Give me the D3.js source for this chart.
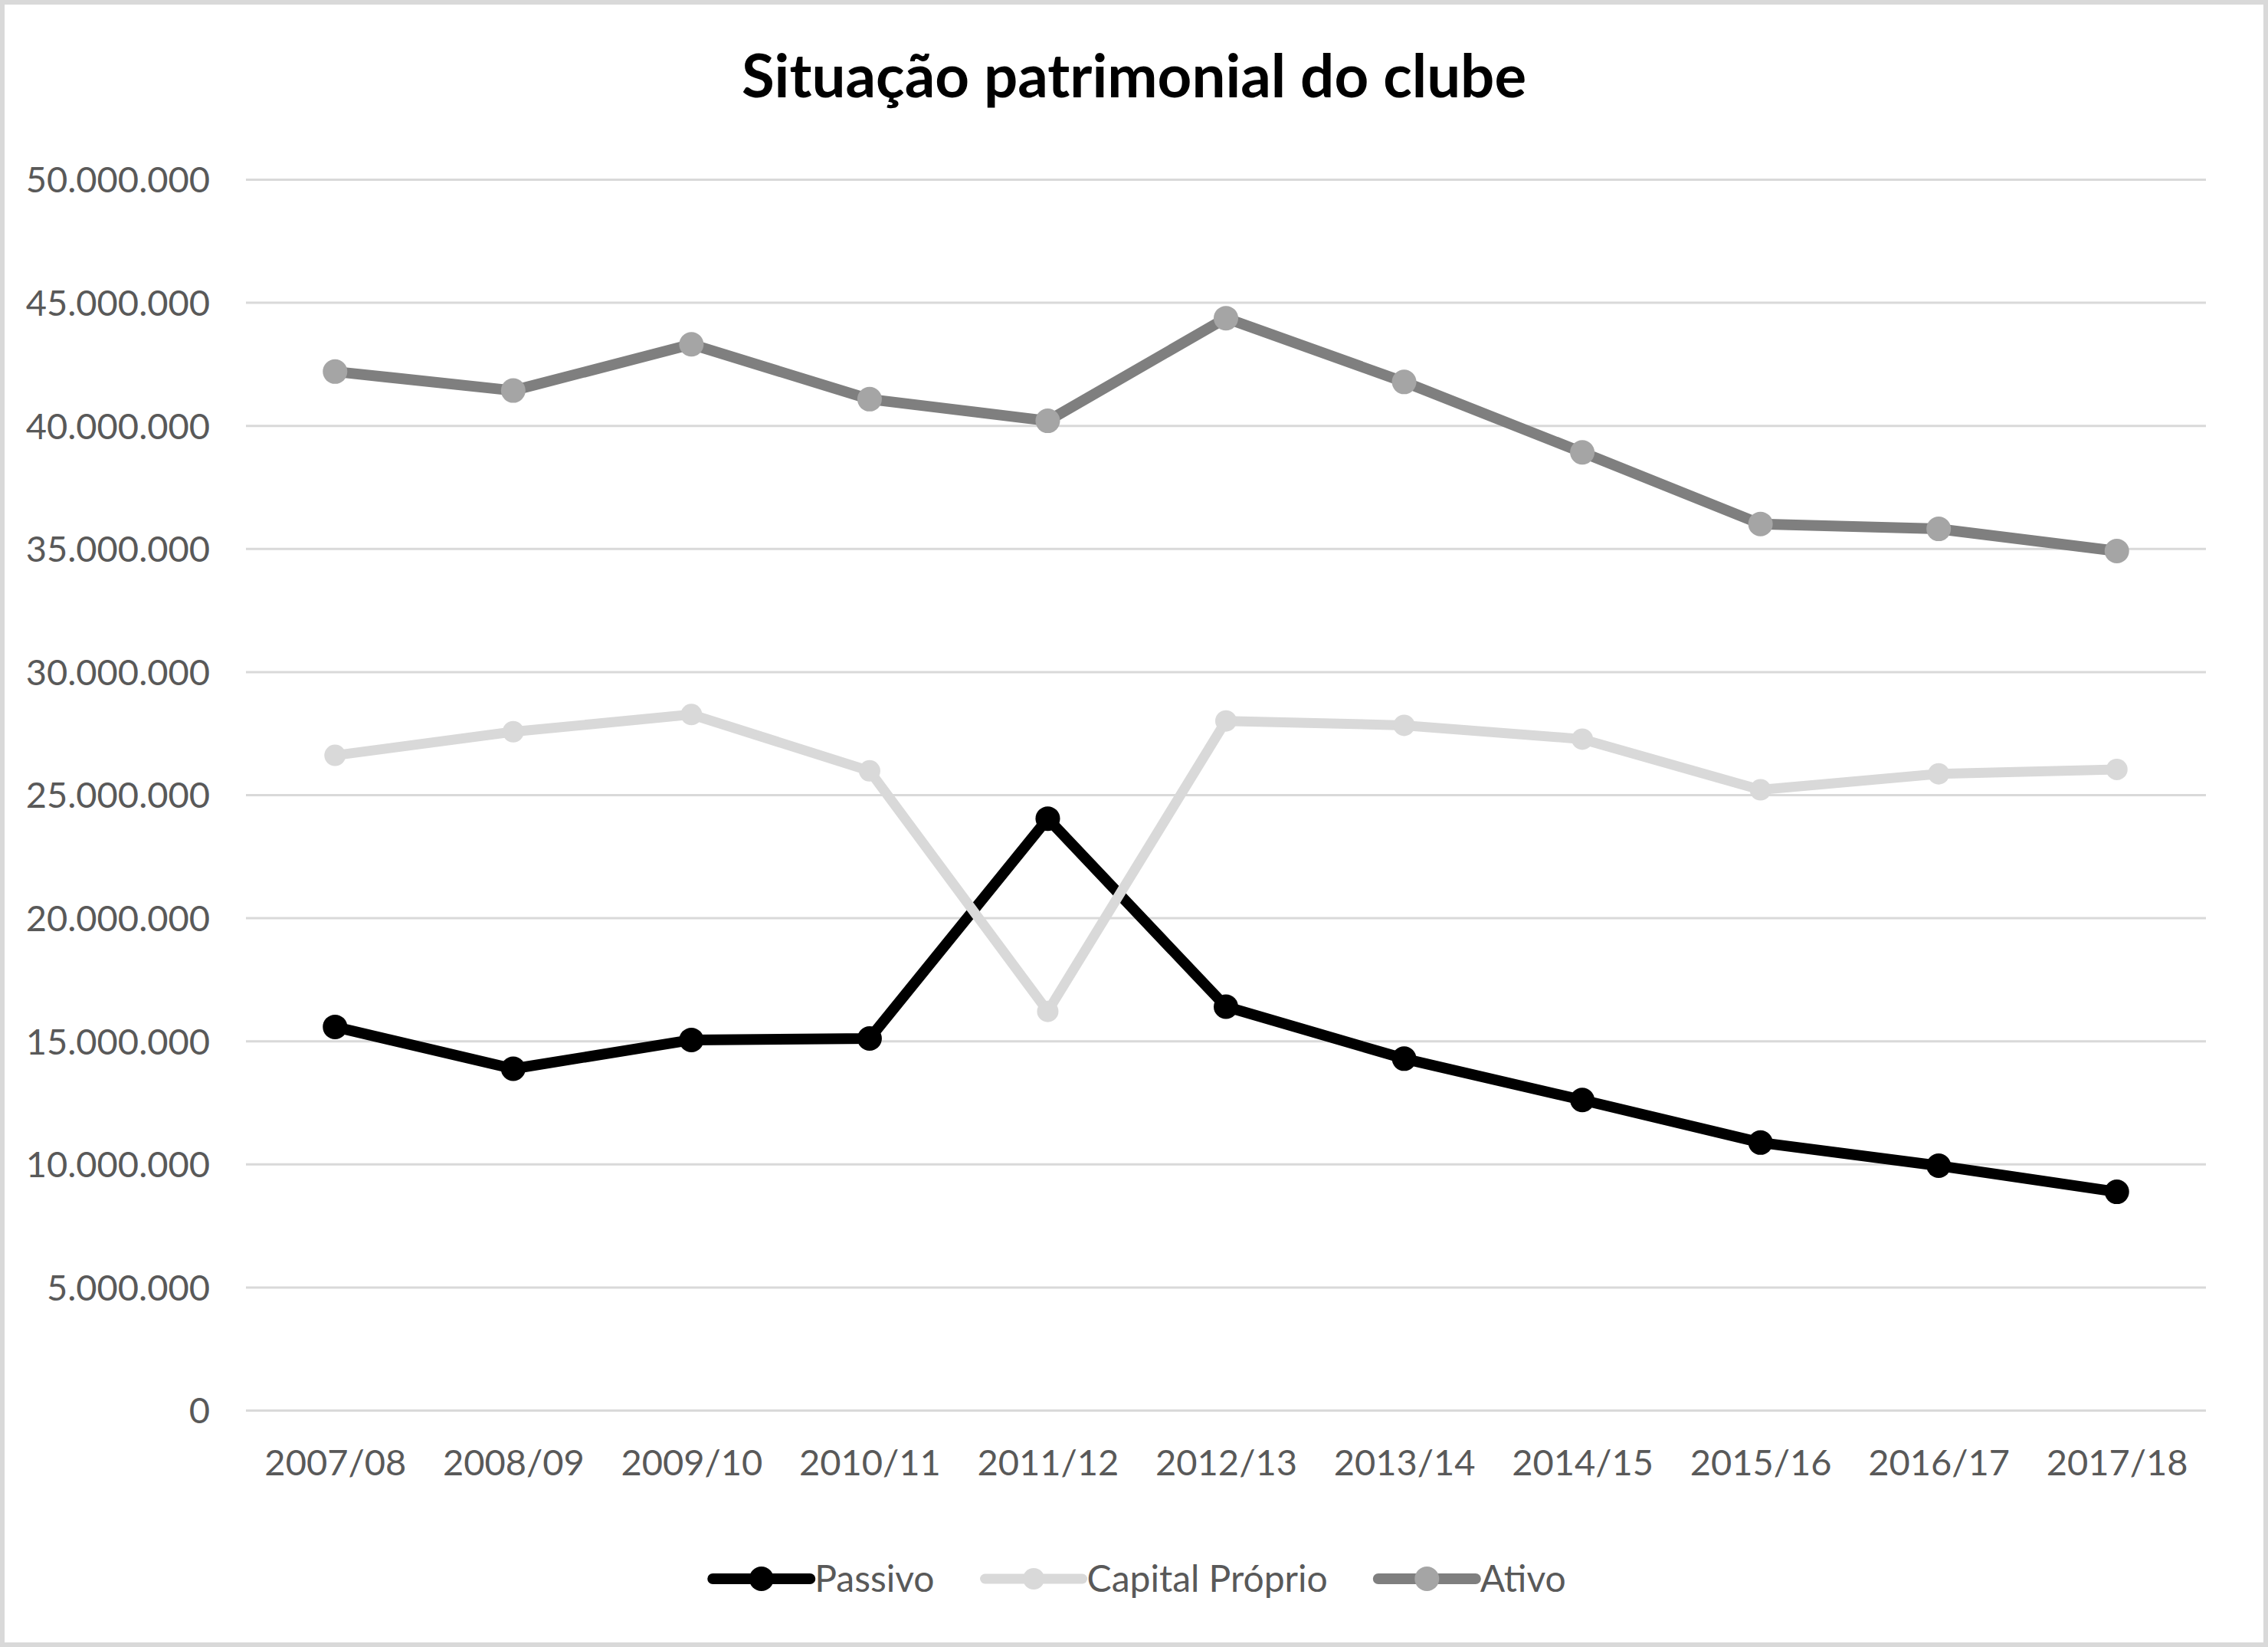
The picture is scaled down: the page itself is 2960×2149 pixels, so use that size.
<!DOCTYPE html>
<html>
<head>
<meta charset="utf-8">
<script src="https://cdn.jsdelivr.net/npm/d3@7"></script>
<style>
  html, body { margin: 0; padding: 0; background: #ffffff; }
  svg { display: block; }
</style>
</head>
<body>
<script>
const categories = ["2007/08","2008/09","2009/10","2010/11","2011/12","2012/13","2013/14","2014/15","2015/16","2016/17","2017/18"];
const passivo = [15570000, 13870000, 15040000, 15100000, 24030000, 16390000, 14280000, 12600000, 10870000, 9930000, 8870000];
const capitalProprio = [26600000, 27560000, 28260000, 25970000, 16200000, 28000000, 27820000, 27260000, 25200000, 25850000, 26030000];
const ativo = [42190000, 41420000, 43300000, 41070000, 40190000, 44360000, 41770000, 38910000, 36000000, 35800000, 34900000];
const yTicks = [0, 5000000, 10000000, 15000000, 20000000, 25000000, 30000000, 35000000, 40000000, 45000000, 50000000];
const seriesNames = ["Passivo", "Capital Próprio", "Ativo"];
const title = "Situação patrimonial do clube";

const W = 2960, H = 2149;
const FONT = "Lato, 'Open Sans', 'DejaVu Sans', sans-serif";

const svg = d3.select("body").append("svg").attr("width", W).attr("height", H);

svg.append("rect").attr("x", 3).attr("y", 3).attr("width", W - 6).attr("height", H - 6)
  .attr("fill", "#ffffff").attr("stroke", "#d9d9d9").attr("stroke-width", 6);

const x = d3.scalePoint().domain(categories).range([321, 2879]).padding(0.5);
const y = d3.scaleLinear().domain([0, 50000000]).range([1840, 234]);

const pt = d3.formatLocale({decimal: ",", thousands: ".", grouping: [3], currency: ["€", ""]});
const fmt = pt.format(",d");

// gridlines + y labels
const yAxis = d3.axisLeft(y).tickValues(yTicks).tickSize(-(2879 - 321)).tickPadding(47).tickFormat(fmt);
const gy = svg.append("g").attr("transform", "translate(321,0)").call(yAxis);
gy.select(".domain").remove();
gy.selectAll(".tick line").attr("stroke", "#d9d9d9").attr("stroke-width", 3);
gy.selectAll(".tick text").attr("fill", "#595959").attr("font-family", FONT).attr("font-size", 47).attr("dy", "0.36em");

// x axis labels
const xAxis = d3.axisBottom(x).tickSize(0).tickPadding(0);
const gx = svg.append("g").attr("transform", "translate(0,1840)").call(xAxis);
gx.select(".domain").remove();
gx.selectAll(".tick text").attr("fill", "#595959").attr("font-family", FONT).attr("font-size", 47)
  .attr("dy", null).attr("y", 85);

// title
svg.append("text").attr("x", W / 2).attr("y", 127).attr("text-anchor", "middle")
  .attr("font-family", FONT).attr("font-weight", "bold").attr("font-size", 78).attr("fill", "#000000")
  .text(title);

const series = [
  {name: seriesNames[0], values: passivo, line: "#000000", marker: "#000000", r: 16, w: 14},
  {name: seriesNames[1], values: capitalProprio, line: "#d9d9d9", marker: "#d9d9d9", r: 14, w: 13},
  {name: seriesNames[2], values: ativo, line: "#7f7f7f", marker: "#a5a5a5", r: 16, w: 14}
];

const line = d3.line().x((d, i) => x(categories[i])).y(d => y(d));

series.forEach(s => {
  const g = svg.append("g");
  g.append("path").datum(s.values).attr("d", line).attr("fill", "none")
    .attr("stroke", s.line).attr("stroke-width", s.w).attr("stroke-linejoin", "round").attr("stroke-linecap", "round");
  g.selectAll("circle").data(s.values).join("circle")
    .attr("cx", (d, i) => x(categories[i])).attr("cy", d => y(d)).attr("r", s.r).attr("fill", s.marker);
});

// legend
const legY = 2060;
const legend = svg.append("g");
const items = [];
series.forEach(s => {
  const g = legend.append("g");
  g.append("line").attr("x1", 0).attr("x2", 127).attr("y1", 0).attr("y2", 0)
    .attr("stroke", s.line).attr("stroke-width", s.w).attr("stroke-linecap", "round");
  g.append("circle").attr("cx", 63.5).attr("cy", 0).attr("r", s.r).attr("fill", s.marker);
  const t = g.append("text").attr("x", 133).attr("y", 0).attr("dy", "0.36em")
    .attr("font-family", FONT).attr("font-size", 48).attr("fill", "#595959").text(s.name);
  items.push({g, w: 133 + t.node().getComputedTextLength()});
});
const gap = 66;
const total = d3.sum(items, d => d.w) + gap * (items.length - 1);
let cx = 1487 - total / 2;
items.forEach(it => {
  it.g.attr("transform", `translate(${cx},${legY})`);
  cx += it.w + gap;
});
</script>
</body>
</html>
